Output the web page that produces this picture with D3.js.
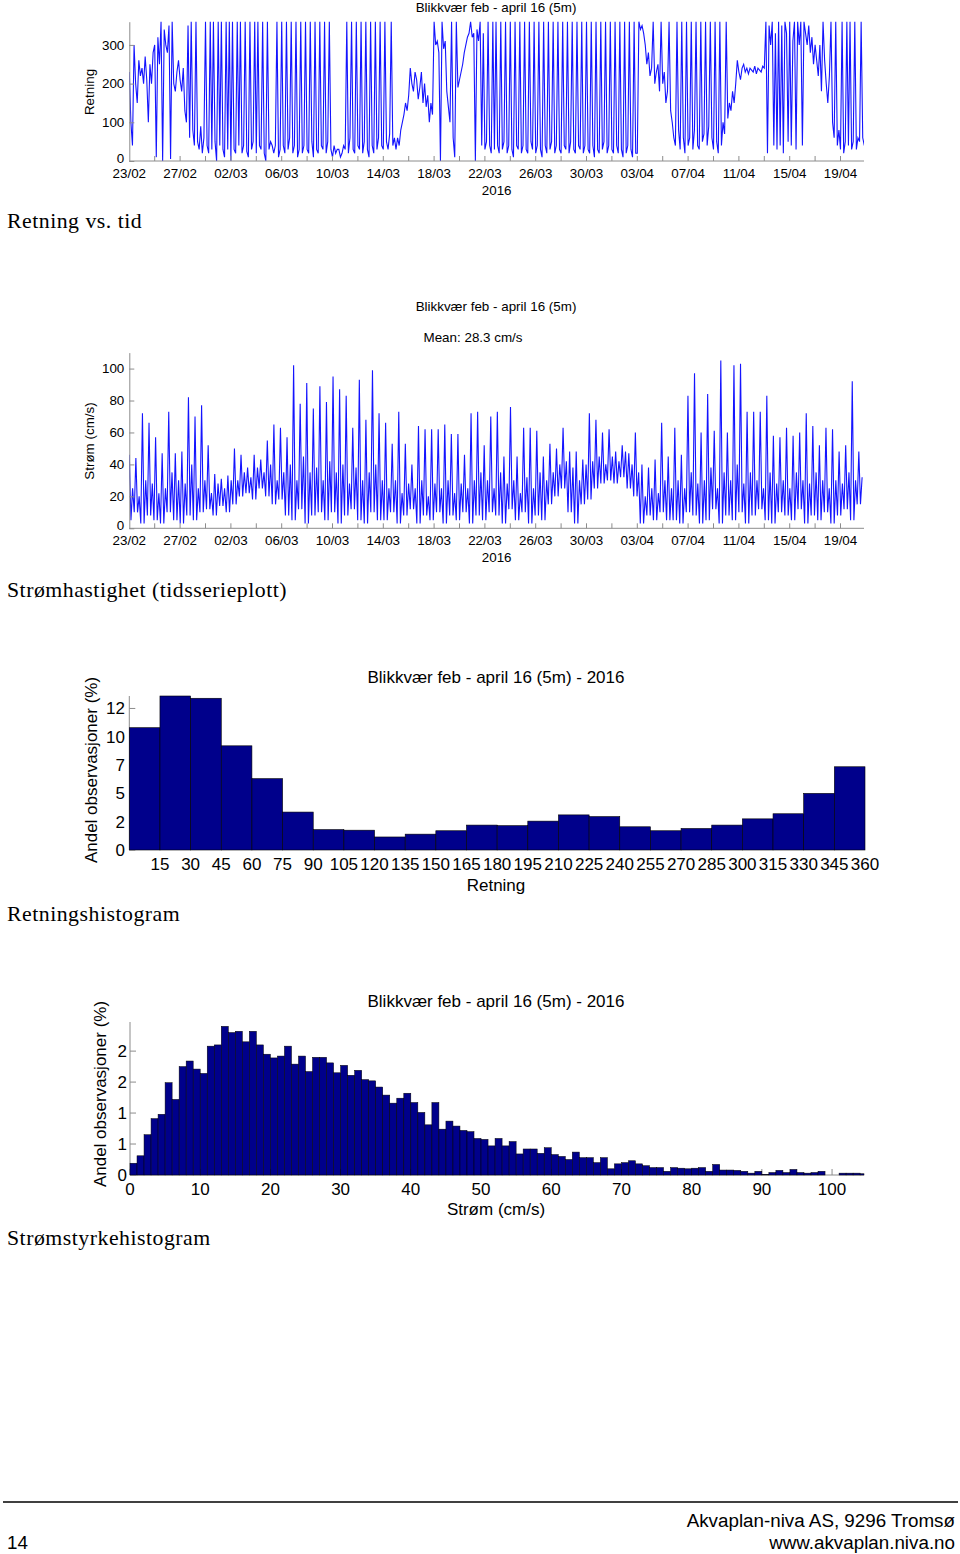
<!DOCTYPE html>
<html><head><meta charset="utf-8">
<script src="https://cdn.jsdelivr.net/npm/d3@7"></script>
<style>body{margin:0;background:#fff}</style>
</head><body>
<script>
// ---------------- DATA ----------------
const dateTickLabels = ["23/02","27/02","02/03","06/03","10/03","14/03","18/03","22/03","26/03","30/03","03/04","07/04","11/04","15/04","19/04"];
const dirStepDays = 0.125;
const direction = [
230,100,40,300,200,150,260,220, 240,200,270,210,100,250,200,280, 300,10,320,250,360,0,340,300,
280,350,5,360,200,180,230,260, 210,180,240,130,100,350,60,360, 80,40,360,50,30,90,20,60,
360,40,20,360,30,360,50,0, 360,40,360,30,10,360,30,360, 0,360,30,20,360,40,360,20,
40,360,25,10,360,30,50,360, 20,360,40,30,360,20,0,360, 30,50,40,20,40,360,10,30,
360,40,20,360,30,60,360,20, 40,360,10,30,360,20,40,360, 30,20,360,50,10,360,30,20,
360,40,30,360,20,50,360,30, 10,40,20,30,30,10,20,40, 30,360,20,60,360,30,20,360,
40,30,360,20,50,360,30,10, 360,40,20,360,30,60,360,40, 30,360,50,30,70,360,40,60,
30,60,40,80,100,120,150,130, 170,240,200,180,230,210,160,190, 230,150,200,140,170,100,150,120,
360,300,310,280,0,360,290,310, 180,140,100,360,60,10,360,190, 210,230,250,280,300,320,330,360,
320,330,0,340,310,360,40,330, 30,50,360,40,20,360,30,360, 40,20,360,30,50,360,20,40,
360,30,10,360,40,30,360,20, 40,360,30,20,360,50,30,360, 20,40,360,30,10,360,40,20,
360,30,50,360,20,40,360,30, 20,360,40,30,360,20,50,360, 30,20,360,40,30,360,20,40,
360,30,20,360,40,10,360,30, 20,360,30,50,360,20,40,360, 30,20,360,40,20,360,30,10,
360,20,40,360,30,10,360,20, 20,360,340,350,330,300,250,280, 220,240,360,200,230,250,180,360,
200,230,150,180,360,130,100,60, 40,360,80,30,360,60,20,360, 40,60,360,30,80,360,40,30,
360,50,70,360,40,90,360,60, 30,360,50,20,360,40,100,70, 360,110,150,130,180,150,200,260,
230,210,240,250,230,240,225,240, 235,230,245,225,240,235,230,245, 240,360,20,350,300,360,40,330,
30,360,40,350,20,360,330,50, 360,40,310,360,30,360,300,360, 40,360,330,300,350,280,320,250,
300,260,220,300,180,360,260,200, 150,220,360,100,60,360,40,80, 30,360,20,50,360,40,360,30,
50,360,30,60,50,360,60,40
];
const tidalCycleDays = 0.5175;
const speedPeak = [46,44,72,66,57,47,73,47,48,82,70,77,52,34,31,33,50,46,38,46,43,55,65,63,57,102,78,91,75,89,79,95,87,83,63,93,68,99,72,66,53,73,53,40,64,62,62,62,65,59,59,46,72,
73,52,70,73,45,76,45,63,63,61,45,53,50,63,48,48,43,72,68,60,62,48,52,47,60,40,38,43,66,45,63,46,83,97,60,84,61,105,60,102,103,73,73,73,83,58,57,63,58,60,72,64,52,63,62,48,52,92,48];
const speedLow = [5,10,3,8,5,3,10,5,3,8, 5,10,12,8,14,10, 15,20,22,18,25,20,15,18,
8,5,12,3,8,10,5,10,3,8,12,5,3,10,5, 5,10,3,8,12,3,8,5,10,3,8,5,10,3,8,
5,10,8,3,12,5,10,3,8,5, 15,20,25,10,3,15,18,25,28, 30,28,32,25,20, 3,8,5,10,5,
5,3,10,8,3,5,12,3,8,5,10,3,8,12,5,3,10,8,5,12,3,8,5,10,3,8,12,5,15];
const speedMid = [25,20,30,28,22,25,35,30,28,40, 25,30,22,28,25,30, 30,35,32,38,35,40,30,35,
40,30,45,35,38,30,42,35,40,28,38,30,35,40,30, 25,30,22,28,25,30,20,28,25,30,22,28,25,30,35,
30,25,35,28,30,22,32,25,35,30, 35,40,42,38,30,40,42,45,40, 45,42,48,40,35, 20,25,22,30,25,
30,25,35,28,30,38,25,35,30,40,28,35,30,25,35,28,30,25,35,30,28,35,30,25,30,28,35,30,32];
const speedMeanLabel = "Mean: 28.3 cm/s";

const dirBinWidth = 15;
const dirHist = [10.8,13.6,13.4,9.2,6.3,3.35,1.8,1.75,1.15,1.4,1.7,2.2,2.15,2.55,3.1,2.95,2.05,1.7,1.9,2.2,2.75,3.2,5.0,7.35];
const dirHistTickVals = [0,2.5,5,7.5,10,12.5];
const dirHistTickLabels = ["0","2","5","7","10","12"];

const speedBinWidth = 1;
const speedHist = [0.19,0.31,0.65,0.91,0.98,1.49,1.22,1.75,1.84,1.71,
 1.64,2.08,2.10,2.40,2.30,2.32,2.15,2.32,2.10,1.95,
 1.89,1.92,2.08,1.79,1.92,1.67,1.90,1.90,1.81,1.65,
 1.77,1.61,1.69,1.54,1.52,1.42,1.29,1.16,1.24,1.32,
 1.17,1.01,0.81,1.17,0.74,0.87,0.79,0.72,0.70,0.59,
 0.575,0.47,0.59,0.47,0.54,0.34,0.42,0.42,0.35,0.44,
 0.33,0.30,0.25,0.37,0.28,0.28,0.20,0.28,0.10,0.18,
 0.20,0.23,0.18,0.15,0.12,0.12,0.06,0.12,0.11,0.10,
 0.11,0.12,0.06,0.17,0.08,0.08,0.075,0.06,0.03,0.06,
 0.01,0.04,0.075,0.04,0.09,0.04,0.03,0.04,0.06,0,
 0,0.03,0.03,0.03,0.02];
const speedHistTickVals = [0,0.5,1,1.5,2];
const speedHistTickLabels = ["0","1","1","2","2"];
const speedHistXTicks = [0,10,20,30,40,50,60,70,80,90,100];

const chartTitle = "Blikkvær feb - april 16 (5m)";
const histTitle = "Blikkvær feb - april 16 (5m) - 2016";
const captions = ["Retning vs. tid","Strømhastighet (tidsserieplott)","Retningshistogram","Strømstyrkehistogram"];

// ---------------- DRAWING ----------------
const SANS = "'Liberation Sans', Arial, sans-serif";
const SERIF = "'Liberation Serif', 'Times New Roman', serif";
const AX = "#8c8c8c";
const LINE = "#1414ff";
const BAR = "#00008b";

const svg = d3.select("body").append("svg").attr("width",960).attr("height",1554);
svg.append("rect").attr("width",960).attr("height",1554).attr("fill","#fff");
const defs = svg.append("defs");

function text(g,x,y,s,size,anchor="middle",font=SANS){
  return g.append("text").attr("x",x).attr("y",y).attr("text-anchor",anchor)
    .attr("font-family",font).attr("font-size",size).attr("fill","#000").text(s);
}
function vtext(g,x,y,s,size){
  return g.append("text").attr("transform",`translate(${x},${y}) rotate(-90)`)
    .attr("text-anchor","middle").attr("dominant-baseline","central")
    .attr("font-family",SANS).attr("font-size",size).attr("fill","#000").text(s);
}

const t0 = Date.UTC(2016,1,23);
const day = d => new Date(t0 + d*864e5);
const xT = d3.scaleUtc().domain([day(0), day(57.85)]).range([129.3, 864]);

function timeAxes(g, y, yBottom, yTicks, labelBase){
  g.selectAll("line.xt").data(d3.range(2,58,2)).join("line")
    .attr("x1",d=>xT(day(d))).attr("x2",d=>xT(day(d)))
    .attr("y1",yBottom).attr("y2",yBottom-5).attr("stroke",AX);
  g.append("line").attr("x1",xT.range()[0]).attr("x2",xT.range()[1])
    .attr("y1",yBottom).attr("y2",yBottom).attr("stroke",AX);
  g.selectAll("text.xl").data(dateTickLabels).join("text")
    .attr("x",(d,i)=>xT(day(i*4))).attr("y",labelBase)
    .attr("text-anchor","middle").attr("font-family",SANS).attr("font-size",13.4).text(d=>d);
  text(g,(xT.range()[0]+xT.range()[1])/2,labelBase+17,"2016",13.4);
  const ax = g.append("g").attr("transform",`translate(${xT.range()[0]},0)`)
    .call(d3.axisLeft(y).tickValues(yTicks).tickSize(-5).tickSizeOuter(0).tickPadding(5));
  ax.select(".domain").attr("stroke",AX);
  ax.selectAll(".tick line").attr("stroke",AX);
  ax.selectAll(".tick text").attr("font-family",SANS).attr("font-size",13.4).attr("fill","#000")
    .attr("dy",d=>d===0?"0.1em":"0.32em");
  ax.attr("font-size",null).attr("font-family",null);
}

// ---- Chart 1: direction vs time
{
  const g = svg.append("g");
  const y = d3.scaleLinear().domain([0,360]).range([161,21.7]);
  defs.append("clipPath").attr("id","c1").append("rect")
    .attr("x",129.3).attr("y",18).attr("width",734.7).attr("height",145);
  const line = d3.line().x((d,i)=>xT(day(i*dirStepDays))).y(d=>y(d));
  g.append("path").datum(direction).attr("d",line).attr("clip-path","url(#c1)")
    .attr("fill","none").attr("stroke",LINE).attr("stroke-width",1.1);
  timeAxes(g, y, 161, [0,100,200,300], 178);
  text(g,496,12,chartTitle,13.4);
  vtext(g,89,92,"Retning",13.4);
}

// ---- Chart 2: speed vs time
{
  const g = svg.append("g");
  const y = d3.scaleLinear().domain([0,110]).range([528.3,352.6]);
  defs.append("clipPath").attr("id","c2").append("rect")
    .attr("x",129.3).attr("y",350).attr("width",734.7).attr("height",180);
  const pts = [];
  speedPeak.forEach((p,k)=>{
    [speedLow[k], p, speedLow[k], speedMid[k]].forEach((v,j)=>{
      pts.push({t:(4*k + j - 1)*tidalCycleDays/4, v});
    });
  });
  const line = d3.line().x(d=>xT(day(d.t))).y(d=>y(d.v));
  g.append("path").datum(pts).attr("d",line).attr("clip-path","url(#c2)")
    .attr("fill","none").attr("stroke",LINE).attr("stroke-width",1.1);
  timeAxes(g, y, 528.3, [0,20,40,60,80,100], 545);
  text(g,496,311,chartTitle,13.4);
  text(g,473,342,speedMeanLabel,13.4);
  vtext(g,89,441,"Strøm (cm/s)",13.4);
}

// ---- Chart 3: direction histogram
{
  const g = svg.append("g");
  const x = d3.scaleLinear().domain([0,360]).range([129.3,865]);
  const y = d3.scaleLinear().domain([0,13.6]).range([850,696]);
  g.append("line").attr("x1",129.3).attr("x2",129.3).attr("y1",696).attr("y2",850).attr("stroke",AX);
  g.selectAll("line.yt").data(dirHistTickVals).join("line")
    .attr("x1",129.3).attr("x2",135.3).attr("y1",d=>y(d)).attr("y2",d=>y(d)).attr("stroke",AX);
  g.selectAll("rect").data(dirHist).join("rect")
    .attr("x",(d,i)=>x(i*dirBinWidth)).attr("width",x(dirBinWidth)-x(0))
    .attr("y",d=>y(d)).attr("height",d=>y(0)-y(d))
    .attr("fill",BAR).attr("stroke","#000").attr("stroke-width",0.6);
  g.selectAll("text.yl").data(dirHistTickVals).join("text")
    .attr("x",125).attr("y",d=>y(d)).attr("dy","0.35em").attr("text-anchor","end")
    .attr("font-family",SANS).attr("font-size",17).text((d,i)=>dirHistTickLabels[i]);
  g.selectAll("text.xl").data(dirHist).join("text")
    .attr("x",(d,i)=>x((i+1)*dirBinWidth)).attr("y",870).attr("text-anchor","middle")
    .attr("font-family",SANS).attr("font-size",17).text((d,i)=>(i+1)*dirBinWidth);
  text(g,496,891,"Retning",17);
  text(g,496,683,histTitle,17);
  vtext(g,91,770,"Andel observasjoner (%)",17);
}

// ---- Chart 4: speed histogram
{
  const g = svg.append("g");
  const x = d3.scaleLinear().domain([0,104.55]).range([130,864]);
  const y = d3.scaleLinear().domain([0,2.47]).range([1175,1022]);
  g.append("line").attr("x1",130).attr("x2",130).attr("y1",1022).attr("y2",1175).attr("stroke",AX);
  g.append("line").attr("x1",130).attr("x2",864).attr("y1",1175).attr("y2",1175).attr("stroke",AX);
  g.selectAll("line.xt").data(speedHistXTicks).join("line")
    .attr("x1",d=>x(d)).attr("x2",d=>x(d)).attr("y1",1175).attr("y2",1169).attr("stroke",AX);
  g.selectAll("line.yt").data(speedHistTickVals).join("line")
    .attr("x1",130).attr("x2",136).attr("y1",d=>y(d)).attr("y2",d=>y(d)).attr("stroke",AX);
  g.selectAll("rect").data(speedHist).join("rect")
    .attr("x",(d,i)=>x(i*speedBinWidth))
    .attr("width",(d,i)=>Math.min(x((i+1)*speedBinWidth),864)-x(i*speedBinWidth))
    .attr("y",d=>y(d)).attr("height",d=>y(0)-y(d))
    .attr("fill",BAR).attr("stroke","#000").attr("stroke-width",0.5);
  g.selectAll("text.yl").data(speedHistTickVals).join("text")
    .attr("x",127).attr("y",d=>y(d)).attr("dy","0.35em").attr("text-anchor","end")
    .attr("font-family",SANS).attr("font-size",17).text((d,i)=>speedHistTickLabels[i]);
  g.selectAll("text.xl").data(speedHistXTicks).join("text")
    .attr("x",d=>x(d)).attr("y",1195).attr("text-anchor","middle")
    .attr("font-family",SANS).attr("font-size",17).text(d=>d);
  text(g,496,1215,"Strøm (cm/s)",17);
  text(g,496,1007,histTitle,17);
  vtext(g,100,1094,"Andel observasjoner (%)",17);
}

// ---- Captions and footer
[[228,0],[597,1],[921,2],[1245,3]].forEach(([yy,i])=>
  text(svg,7,yy,captions[i],21.8,"start",SERIF).attr("letter-spacing","0.5px"));
svg.append("line").attr("x1",3).attr("x2",958).attr("y1",1502).attr("y2",1502).attr("stroke","#000").attr("stroke-width",1.3);
text(svg,7,1549,"14",18.8,"start");
text(svg,955,1527,"Akvaplan-niva AS, 9296 Tromsø",18.8,"end");
text(svg,955,1549,"www.akvaplan.niva.no",18.8,"end");
</script>
</body></html>
